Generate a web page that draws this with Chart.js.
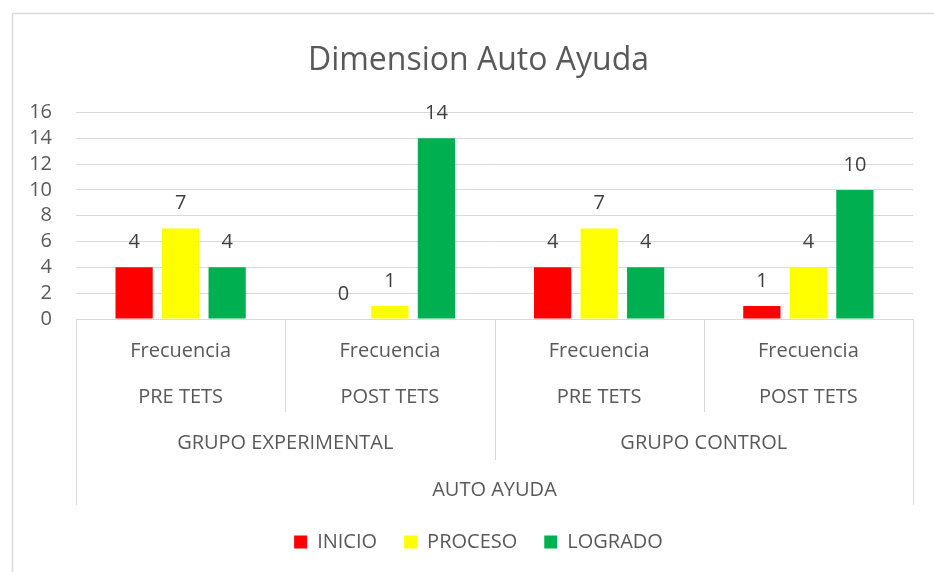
<!DOCTYPE html>
<html>
<head>
<meta charset="utf-8">
<script src="https://cdn.jsdelivr.net/npm/chart.js@4.4.1/dist/chart.umd.min.js"></script>
<style>
html,body{margin:0;padding:0;background:#fff}
canvas{display:block}
</style>
</head>
<body>
<canvas id="chart" width="934" height="572"></canvas>
<script>
// data
const categories=["Frecuencia","Frecuencia","Frecuencia","Frecuencia"]
const testLabels=["PRE TETS","POST TETS","PRE TETS","POST TETS"]
const groupLabels=["GRUPO EXPERIMENTAL","GRUPO CONTROL"]
const dimensionLabel="AUTO AYUDA"
const seriesNames=["INICIO","PROCESO","LOGRADO"]
const inicio=[4,0,4,1]
const proceso=[7,1,7,4]
const logrado=[4,14,4,10]
const yTicks={min:0,max:16,step:2}

const FONT="'Open Sans'"
const TEXT="#595959"
const GRID="#d9d9d9"

// outer frame of the chart object
const framePlugin={
id:"frame",
beforeDraw(chart){
const c=chart.ctx
c.save()
c.strokeStyle=GRID
c.lineWidth=1.5
c.beginPath()
c.moveTo(12.5,chart.height)
c.lineTo(12.5,13.5)
c.lineTo(chart.width,13.5)
c.stroke()
c.restore()
}
}

// values above the bars
const valuePlugin={
id:"values",
afterDatasetsDraw(chart){
const c=chart.ctx
c.save()
c.font="20px "+FONT
c.fillStyle="#404040"
c.textAlign="center"
c.textBaseline="middle"
chart.data.datasets.forEach((ds,i)=>{
chart.getDatasetMeta(i).data.forEach((bar,j)=>{
c.fillText(ds.data[j],bar.x,bar.y-25)
})
})
c.restore()
}
}

// multi level category axis like excel
const axisPlugin={
id:"multiAxis",
afterDraw(chart){
const c=chart.ctx
const x=chart.scales.x
const a=chart.chartArea
const top=a.bottom
const n=categories.length
const px=i=>x.getPixelForValue(i)
const edge=i=>{
if(i<=0) return a.left
if(i>=n) return a.right
return (px(i-1)+px(i))/2
}
c.save()
c.strokeStyle=GRID
c.lineWidth=1
function vline(xp,len){
xp=Math.round(xp)+0.5
c.beginPath()
c.moveTo(xp,top)
c.lineTo(xp,top+len)
c.stroke()
}
// level 1 and 2 dividers
vline(edge(1),93)
vline(edge(3),93)
// group divider
vline(edge(2),141)
// outer edges
vline(edge(0),186)
vline(edge(4),186)

c.font="20px "+FONT
c.fillStyle=TEXT
c.textAlign="center"
c.textBaseline="middle"
for(let i=0;i<n;i++){
c.fillText(categories[i],px(i),top+32)
c.fillText(testLabels[i],px(i),top+78)
}
groupLabels.forEach((g,k)=>{
c.fillText(g,(edge(k*2)+edge(k*2+2))/2,top+124)
})
c.fillText(dimensionLabel,(edge(0)+edge(n))/2,top+171)
c.restore()
}
}

const chart=new Chart(document.getElementById("chart"),{
type:"bar",
data:{
labels:categories,
datasets:[
{label:seriesNames[0],data:inicio,backgroundColor:"#ff0000"},
{label:seriesNames[1],data:proceso,backgroundColor:"#ffff00"},
{label:seriesNames[2],data:logrado,backgroundColor:"#00b050"}
]
},
options:{
responsive:false,
animation:false,
categoryPercentage:0.667,
barPercentage:0.8,
layout:{padding:{left:44,right:21,top:0,bottom:10}},
plugins:{
title:{
display:true,
text:"Dimension Auto Ayuda",
color:TEXT,
font:{family:FONT,size:32,weight:"normal"},
padding:{top:42,bottom:32}
},
legend:{
position:"bottom",
labels:{
color:TEXT,
font:{family:FONT,size:20},
boxWidth:13,
boxHeight:13,
padding:27
}
},
tooltip:{enabled:false}
},
scales:{
x:{
grid:{display:false},
border:{display:false},
ticks:{display:false},
afterFit(s){s.height=186}
},
y:{
min:yTicks.min,
max:yTicks.max,
ticks:{stepSize:yTicks.step,autoSkip:false,color:TEXT,font:{family:FONT,size:20},padding:24},
grid:{color:GRID,drawTicks:false},
border:{display:false},
afterFit(s){
s.width=32
// labels sit in the left padding, so do not clip them to the narrow axis box
s._computeLabelArea=function(){}
}
}
}
},
plugins:[framePlugin,valuePlugin,axisPlugin]
})
</script>
</body>
</html>
